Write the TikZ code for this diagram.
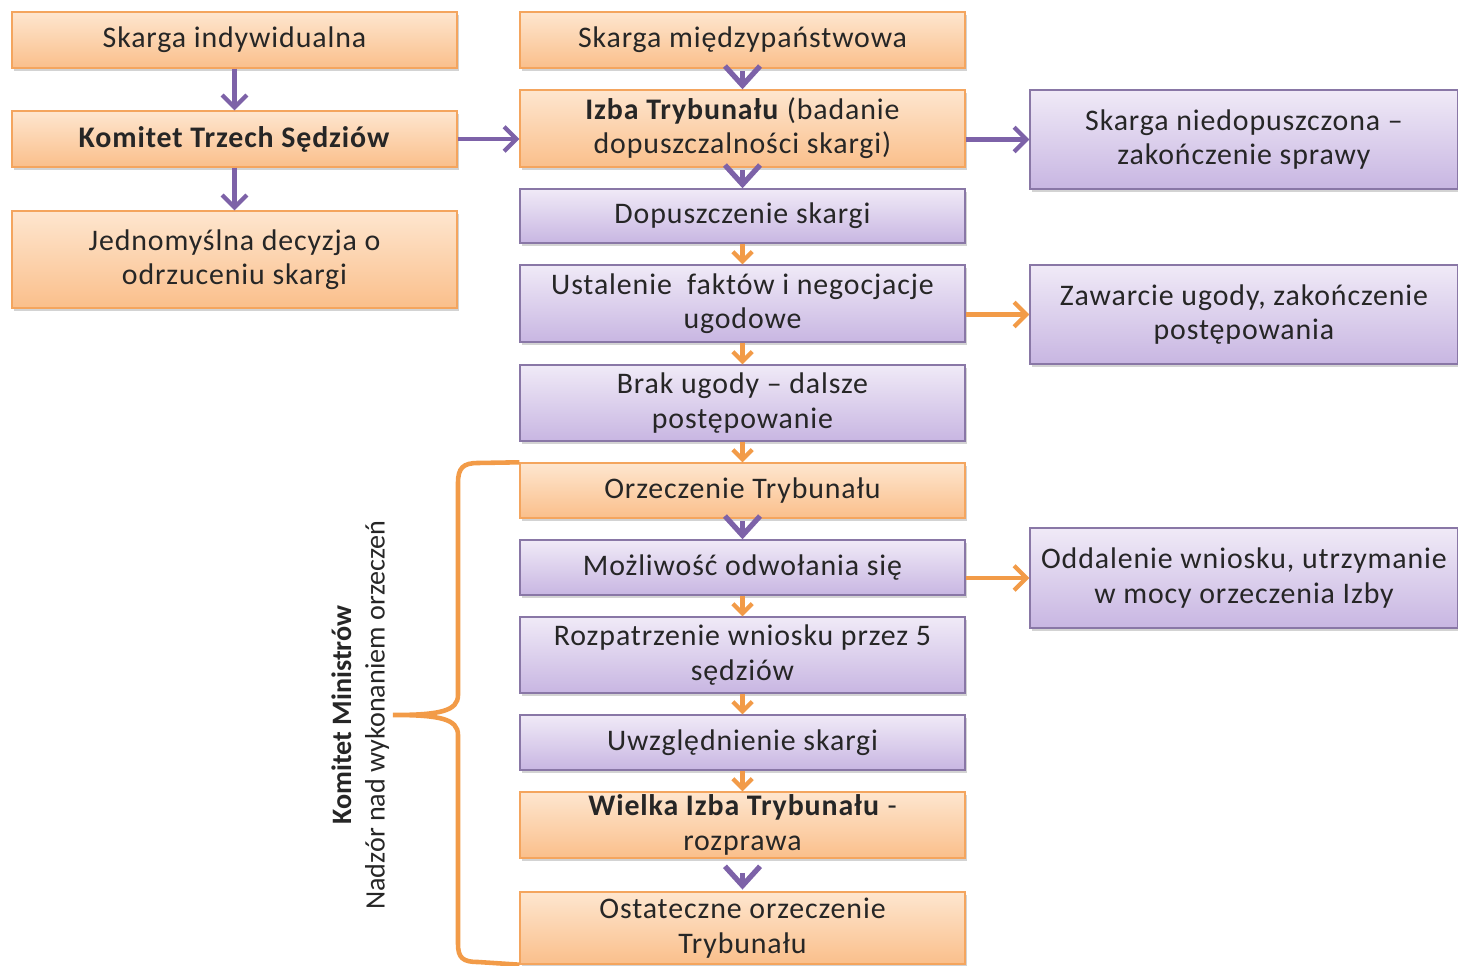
\documentclass[tikz,border=0pt]{standalone}
\usepackage{fontspec}
\setmainfont[LetterSpace=3]{Carlito}
\usetikzlibrary{arrows.meta,shadows}
\definecolor{orLine}{HTML}{F4A55E}
\definecolor{orTop}{HTML}{FEE6CF}
\definecolor{orBot}{HTML}{FABF8B}
\definecolor{plLine}{HTML}{8977A6}
\definecolor{plTop}{HTML}{F0EAF7}
\definecolor{plBot}{HTML}{C8B6E2}
\definecolor{plArr}{HTML}{7D62A8}
\definecolor{orArr}{HTML}{F29B48}
\tikzset{box/.style = {rectangle,draw,line width=0.8pt,align=center,inner sep=0pt,
                       font=\fontsize{17}{19.5}\selectfont,text=black!85,
                       drop shadow={shadow xshift=1.2pt,shadow yshift=-1.5pt,opacity=0.35}},
         orbox/.style = {box,draw=orLine,top color=orTop,bottom color=orBot},
         plbox/.style = {box,draw=plLine,top color=plTop,bottom color=plBot},
         purarr/.style = {draw=plArr,line width=2.4pt,-{Straight Barb[length=7pt,width=14pt]}},
         purvee/.style = {draw=plArr,line width=3pt,shorten <=1.5pt,-{Straight Barb[length=11pt,width=20pt]}},
         orarr/.style = {draw=orArr,line width=2.4pt,-{Straight Barb[length=7pt,width=14pt]}},
         orsmall/.style = {draw=orArr,line width=2.4pt,-{Straight Barb[length=5.5pt,width=11pt]}},
         bracel/.style = {draw=orArr,line width=2.6pt}}
\begin{document}
\begin{tikzpicture}[x=0.02cm,y=-0.02cm]
    \useasboundingbox (0,0) rectangle (1458,966);

    \node [orbox,minimum width=8.9cm,minimum height=1.12cm] (ind) at (234.5,40) {Skarga indywidualna};
    \node [orbox,minimum width=8.9cm,minimum height=1.12cm] (kts) at (234.5,139) {\textbf{Komitet Trzech Sędziów}};
    \node [orbox,minimum width=8.9cm,minimum height=1.94cm] (odr) at (234.5,259.5) {Jednomyślna decyzja o\\odrzuceniu skargi};

    \node [orbox,minimum width=8.9cm,minimum height=1.12cm] (mie) at (742.5,40) {Skarga międzypaństwowa};
    \node [orbox,minimum width=8.9cm,minimum height=1.54cm] (izb) at (742.5,128.5) {\textbf{Izba Trybunału} (badanie\\dopuszczalności skargi)};
    \node [plbox,minimum width=8.9cm,minimum height=1.08cm] (dop) at (742.5,216) {Dopuszczenie skargi};
    \node [plbox,minimum width=8.9cm,minimum height=1.54cm] (ust) at (742.5,303.5) {Ustalenie\ \ faktów i negocjacje\\ugodowe};
    \node [plbox,minimum width=8.9cm,minimum height=1.52cm] (bra) at (742.5,403) {Brak ugody -- dalsze\\postępowanie};
    \node [orbox,minimum width=8.9cm,minimum height=1.10cm] (orz) at (742.5,490.5) {Orzeczenie Trybunału};
    \node [plbox,minimum width=8.9cm,minimum height=1.10cm] (moz) at (742.5,567.5) {Możliwość odwołania się};
    \node [plbox,minimum width=8.9cm,minimum height=1.52cm] (roz) at (742.5,655) {Rozpatrzenie wniosku przez 5\\sędziów};
    \node [plbox,minimum width=8.9cm,minimum height=1.10cm] (uwz) at (742.5,742.5) {Uwzględnienie skargi};
    \node [orbox,minimum width=8.9cm,minimum height=1.32cm] (wie) at (742.5,825) {\textbf{Wielka Izba Trybunału} -\\rozprawa};
    \node [orbox,minimum width=8.9cm,minimum height=1.44cm] (ost) at (742.5,928) {Ostateczne orzeczenie\\Trybunału};

    \node [plbox,minimum width=8.56cm,minimum height=1.98cm] (nie) at (1244,139.5) {Skarga niedopuszczona --\\zakończenie sprawy};
    \node [plbox,minimum width=8.56cm,minimum height=1.98cm] (zaw) at (1244,314.5) {Zawarcie ugody, zakończenie\\postępowania};
    \node [plbox,minimum width=8.56cm,minimum height=2.00cm] (odd) at (1244,578) {Oddalenie wniosku, utrzymanie\\w mocy orzeczenia Izby};

    \node [rotate=90,anchor=south,align=center,inner sep=2pt,
           font=\fontsize{16}{19}\selectfont\addfontfeature{LetterSpace=0},text=black!85] (km) at (393,715)
          {\textbf{Komitet Ministrów}\\Nadzór nad wykonaniem orzeczeń};

    \draw [purarr] (ind) to (kts);
    \draw [purarr] (kts) to (odr);
    \draw [purarr] (kts.east) to (kts.east -| izb.west);
    \draw [purarr] (nie.west -| izb.east) to (nie.west);
    \draw [orarr] (zaw.west -| ust.east) to (zaw.west);
    \draw [orarr] (odd.west -| moz.east) to (odd.west);

    \draw [purvee] (mie) to (izb);
    \draw [purvee] (izb) to (dop);
    \draw [orsmall] (dop) to (ust);
    \draw [orsmall] (ust) to (bra);
    \draw [orsmall] (bra) to (orz);
    \draw [purvee] (orz) to (moz);
    \draw [orsmall] (moz) to (roz);
    \draw [orsmall] (roz) to (uwz);
    \draw [orsmall] (uwz) to (wie);
    \draw [purvee,shorten <=8pt,shorten >=1pt] (wie) to (ost);

    \draw [bracel] (orz.north west) -- (478,463) .. controls (463,463) and (458,468) .. (458,483)
          -- (458,695) .. controls (458,711) and (440,715) .. (km.south)
          .. controls (440,715) and (458,719) .. (458,735)
          -- (458,944) .. controls (458,958) and (463,962) .. (478,962) -- (ost.south west);
\end{tikzpicture}
\end{document}
